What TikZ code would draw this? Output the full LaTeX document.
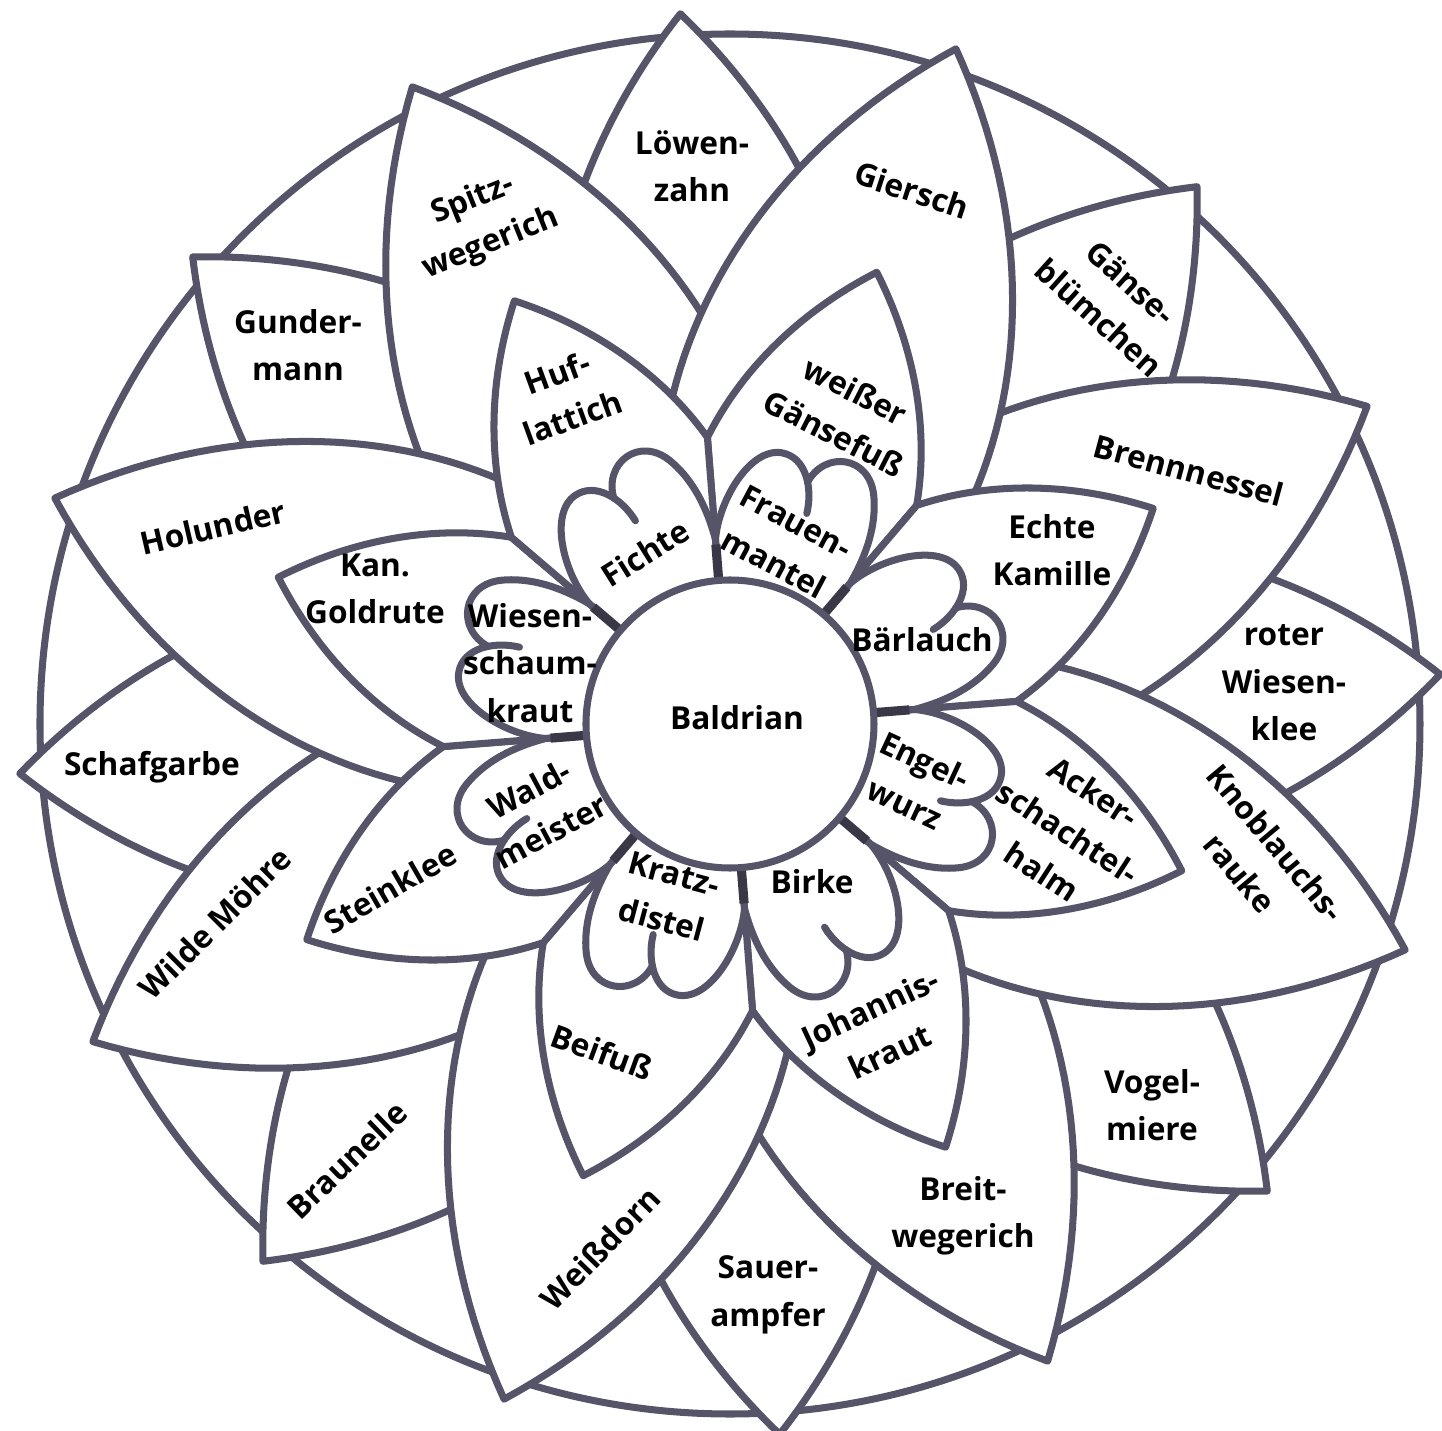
\documentclass[tikz,border=0pt]{standalone}
\usepackage{fontspec}
\setmainfont{Open Sans}
\definecolor{inkline}{RGB}{85,84,104}
\definecolor{tickline}{RGB}{58,56,70}
\newcommand{\leafpath}[4]{plot[domain=0:1,samples=40] ({#1+#3*(#2-#4)*(1-\x)}:{#4+(#2-#4)*\x}) -- plot[domain=0:1,samples=40] ({#1-#3*(#2-#4)*\x}:{#2-(#2-#4)*\x}) -- cycle}
\newcommand{\midleafpath}[1]{(#1+22.5:1) -- (#1+22.5:2.875) -- plot[domain=0:1,samples=40] ({#1+22.5*(1-\x)}:{2.875+1.875*\x}) -- plot[domain=0:1,samples=40] ({#1-22.5*\x}:{4.75-1.875*\x}) -- (#1-22.5:1) -- cycle}
\tikzset{
  ink/.style={draw=inkline,line width=2pt,line join=round,line cap=round},
  petal/.style={ink,fill=white},
  tickmark/.style={draw=tickline,line width=2.6pt},
  lbl/.style={font=\bfseries\fontsize{9}{13.5}\selectfont,align=center,inner sep=0pt,text=black}
}
\begin{document}
\begin{tikzpicture}
  \useasboundingbox (-7.30,-7.07) rectangle (7.12,7.24);
  \draw[ink] (0,0) circle (6.90);
  \foreach \a in {94,49,...,-221}
    \filldraw[petal] \leafpath{\a}{7.12}{7.3}{4.0};
  \foreach \a in {116.5,26.5,-63.5,-153.5,71.5,-18.5,-108.5,-198.5}
    \filldraw[petal] \leafpath{\a}{7.12}{7.5}{2.2};
  \foreach \a in {72,27,...,-243}
    \filldraw[petal] \midleafpath{\a};
  \foreach \a in {72,27,...,-243} {
    \begin{scope}[rotate=\a-90]
      \fill[white] (112.5:1) -- (112.5:1.85) .. controls (-0.80,2.10) and (-0.66,2.70) .. (-0.34,2.74) .. controls (-0.16,2.76) and (-0.03,2.66) .. (-0.01,2.54) .. controls (0.06,2.90) and (0.50,2.98) .. (0.66,2.62) .. controls (0.80,2.30) and (0.76,1.95) .. (67.5:1.85) -- (67.5:1) -- cycle;
    \end{scope}
  }
  \foreach \a in {72,27,...,-243} {
    \begin{scope}[rotate=\a-90]
      \draw[ink] (112.5:1.44) -- (112.5:1.85) .. controls (-0.80,2.10) and (-0.66,2.70) .. (-0.34,2.74) .. controls (-0.10,2.77) and (0.06,2.50) .. (0.08,2.24);
      \draw[ink] (-0.01,2.54) .. controls (0.06,2.90) and (0.50,2.98) .. (0.66,2.62) .. controls (0.80,2.30) and (0.76,1.95) .. (67.5:1.85) -- (67.5:1.44);
    \end{scope}
  }
  \foreach \a in {94.5,49.5,...,-220.5}
    \draw[tickmark] (\a:1.40) -- (\a:1.80);
  \filldraw[petal] (0,0) circle (1.44);

  \node[lbl] (baldrian) at (0.07,0.06) {Baldrian};

  \node[lbl] (loewenzahn) at (-0.38,5.58) {Löwen-\\zahn};
  \node[lbl,rotate=-42] (gaensebluemchen) at (3.85,4.24) {Gänse-\\blümchen};
  \node[lbl] (wiesenklee) at (5.54,0.41) {roter\\Wiesen-\\klee};
  \node[lbl] (vogelmiere) at (4.22,-3.81) {Vogel-\\miere};
  \node[lbl] (sauerampfer) at (0.38,-5.71) {Sauer-\\ampfer};
  \node[lbl,rotate=44] (braunelle) at (-3.83,-4.36) {Braunelle};
  \node[lbl] (schafgarbe) at (-5.78,-0.43) {Schafgarbe};
  \node[lbl] (gundermann) at (-4.32,3.79) {Gunder-\\mann};

  \node[lbl,rotate=22] (spitzwegerich) at (-2.48,5.02) {Spitz-\\wegerich};
  \node[lbl,rotate=-18] (giersch) at (1.82,5.34) {Giersch};
  \node[lbl,rotate=-15] (brennnessel) at (4.59,2.54) {Brennnessel};
  \node[lbl,rotate=-50] (knoblauchsrauke) at (5.28,-1.34) {Knoblauchs-\\rauke};
  \node[lbl] (breitwegerich) at (2.33,-4.92) {Breit-\\wegerich};
  \node[lbl,rotate=46] (weissdorn) at (-1.30,-5.24) {Weißdorn};
  \node[lbl,rotate=45] (wildemoehre) at (-5.15,-1.99) {Wilde Möhre};
  \node[lbl,rotate=13] (holunder) at (-5.17,1.97) {Holunder};

  \node[lbl,rotate=20] (huflattich) at (-1.65,3.29) {Huf-\\lattich};
  \node[lbl,rotate=-27] (gaensefuss) at (1.15,3.12) {weißer\\Gänsefuß};
  \node[lbl] (kamille) at (3.22,1.74) {Echte\\Kamille};
  \node[lbl,rotate=-33] (schachtelhalm) at (3.38,-1.08) {Acker-\\schachtel-\\halm};
  \node[lbl,rotate=25] (johanniskraut) at (1.50,-3.06) {Johannis-\\kraut};
  \node[lbl,rotate=-20] (beifuss) at (-1.28,-3.28) {Beifuß};
  \node[lbl,rotate=30] (steinklee) at (-3.40,-1.64) {Steinklee};
  \node[lbl] (goldrute) at (-3.55,1.35) {Kan.\\Goldrute};

  \node[lbl,rotate=32] (fichte) at (-0.85,1.71) {Fichte};
  \node[lbl,rotate=-28] (frauenmantel) at (0.55,1.81) {Frauen-\\mantel};
  \node[lbl] (baerlauch) at (1.92,0.84) {Bärlauch};
  \node[lbl,rotate=-25] (engelwurz) at (1.85,-0.58) {Engel-\\wurz};
  \node[lbl] (birke) at (0.82,-1.58) {Birke};
  \node[lbl,rotate=-15] (kratzdistel) at (-0.62,-1.73) {Kratz-\\distel};
  \node[lbl,rotate=28] (waldmeister) at (-1.90,-0.86) {Wald-\\meister};
  \node[lbl] (wiesenschaumkraut) at (-2.00,0.61) {Wiesen-\\schaum-\\kraut};
\end{tikzpicture}
\end{document}
